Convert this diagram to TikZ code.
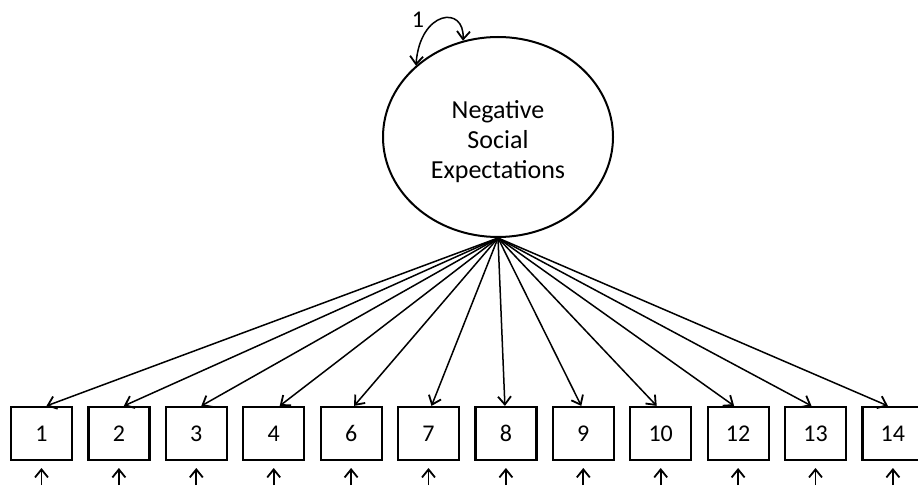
\documentclass[tikz,border=0pt]{standalone}
\usepackage{fontspec}
\setmainfont{Carlito}
\usetikzlibrary{shapes.geometric,arrows.meta}
\begin{document}
\begin{tikzpicture}[x=1pt,y=-1pt,
  barb/.tip={Straight Barb[length=8pt,width=13pt,line width=1.8pt]},
  lat/.style={draw,line width=2pt,ellipse,minimum width=230pt,minimum height=200pt,inner sep=0pt},
  lattext/.style={align=center,inner sep=0pt,font=\fontsize{26}{30}\selectfont},
  obs/.style={draw,line width=2.2pt,minimum width=61pt,minimum height=53pt,inner sep=0pt,font=\fontsize{24}{28}\selectfont},
  conn/.style={line width=1.5pt,-barb},
  errc/.style={line width=1.9pt,-barb},
  loopc/.style={line width=1.5pt,barb-barb}
]
\useasboundingbox (0,0) rectangle (918,486);
\node[lat] (ell) at (498,137) {};
\node[lattext] (lt) at (498,142) {Negative\\Social\\Expectations};
\draw[loopc] (ell.139) .. controls (420,10) and (465,5) .. (ell.110);
\node[font=\fontsize{24}{28}\selectfont] (one) at (418,20) {1};
\foreach \lab/\i/\dx in {1/0/5,2/1/5,3/2/5,4/3/6,6/4/3,7/5/3,8/6/-1,9/7/-2,10/8/-4,12/9/-4,13/10/-4,14/11/-5}{
  \node[obs] (b\lab) at ({41.5+77.4*\i},433.5) {\lab};
  \draw[conn] (ell.south) -- ([xshift=\dx pt]b\lab.north);
  \coordinate (e\lab) at ({41.5+77.4*\i},485);
  \draw[errc] (e\lab) -- ++(0,-17);
}
\end{tikzpicture}
\end{document}
